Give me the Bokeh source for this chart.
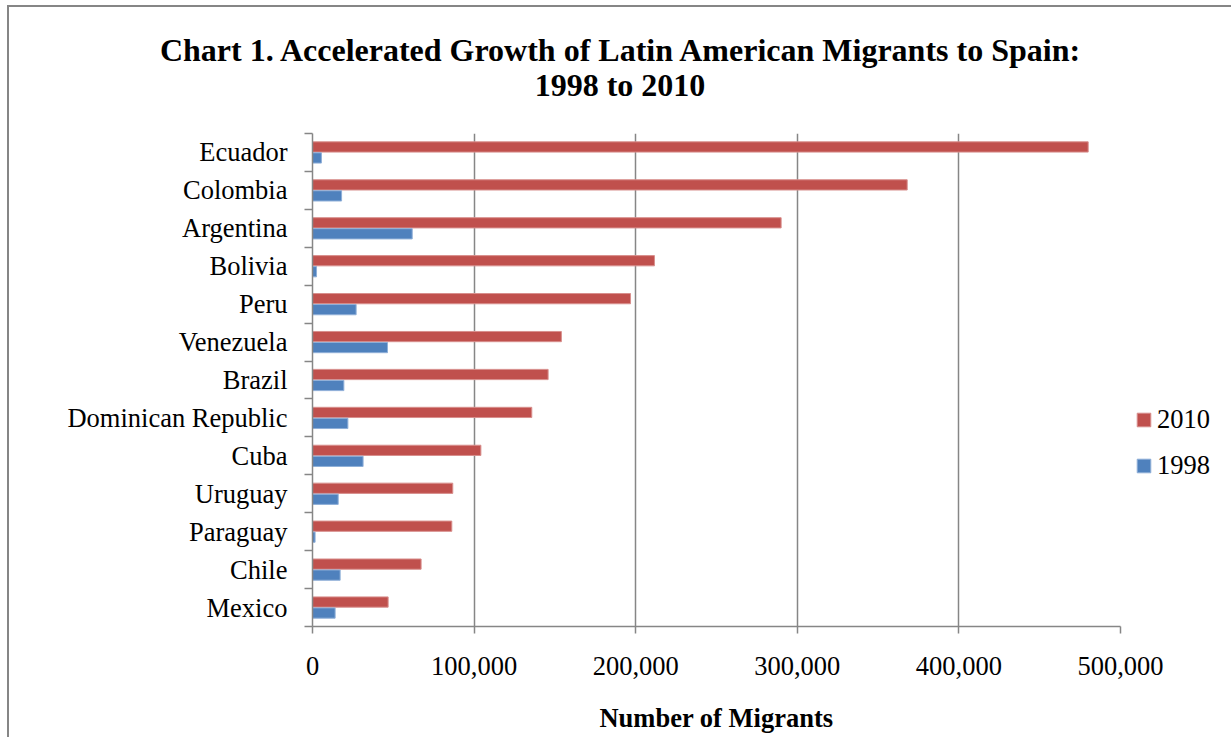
from bokeh.plotting import figure
from bokeh.models import (ColumnDataSource, Range1d, FixedTicker, NumeralTickFormatter,
                          Legend, LegendItem, Div)
from bokeh.layouts import column
from bokeh.transform import dodge
from bokeh.embed import file_html
from bokeh.resources import INLINE

# ---- data ----
countries = ["Ecuador", "Colombia", "Argentina", "Bolivia", "Peru", "Venezuela", "Brazil",
             "Dominican Republic", "Cuba", "Uruguay", "Paraguay", "Chile", "Mexico"]
migrants_2010 = [480000, 368000, 290000, 211600, 196800, 154000, 145800,
                 135700, 104200, 86800, 86200, 67200, 46800]
migrants_1998 = [5500, 18000, 61700, 2500, 27000, 46400, 19400,
                 21900, 31300, 15900, 1600, 17100, 14000]
x_ticks = [0, 100000, 200000, 300000, 400000, 500000]
series_names = ["2010", "1998"]
title_lines = ["Chart 1. Accelerated Growth of Latin American Migrants to Spain:", "1998 to 2010"]
x_title = "Number of Migrants"

RED = "#C0504D"
BLUE = "#4F81BD"
GREY = "#868686"
FONT = "Liberation Serif"

n = len(countries)
src = ColumnDataSource(dict(
    y=[i + 0.5 for i in range(n)],
    country=countries,
    v2010=migrants_2010,
    v1998=migrants_1998,
))

p = figure(frame_width=808, frame_height=493,
           x_range=Range1d(0, 500000), y_range=Range1d(n, 0),
           output_backend="svg", toolbar_location=None,
           min_border_left=303, min_border_right=110,
           min_border_top=26, min_border_bottom=113)
p.outline_line_color = None
p.background_fill_color = "white"
p.border_fill_color = "white"

r10 = p.hbar(y=dodge("y", -0.145), right="v2010", left=0, height=0.27, source=src,
             fill_color=RED, line_color="#D88F8D", line_width=1)
r98 = p.hbar(y=dodge("y", 0.145), right="v1998", left=0, height=0.27, source=src,
             fill_color=BLUE, line_color="#8FAFD8", line_width=1)

# x axis
p.xaxis.ticker = FixedTicker(ticks=x_ticks)
p.xaxis.formatter = NumeralTickFormatter(format="0,0")
p.xaxis.major_tick_in = 0
p.xaxis.major_tick_out = 7
p.xaxis.minor_tick_line_color = None
p.xaxis.axis_line_color = GREY
p.xaxis.axis_line_width = 1.5
p.xaxis.major_tick_line_color = GREY
p.xaxis.major_tick_line_width = 1.5
p.xaxis.major_label_text_font = FONT
p.xaxis.major_label_text_font_size = "26.5px"
p.xaxis.major_label_text_color = "black"
p.xaxis.major_label_standoff = 23
p.xaxis.axis_label = x_title
p.xaxis.axis_label_text_font = FONT
p.xaxis.axis_label_text_font_style = "bold"
p.xaxis.axis_label_text_font_size = "26.5px"
p.xaxis.axis_label_text_color = "black"
p.xaxis.axis_label_standoff = 25

# y axis
p.yaxis.ticker = FixedTicker(ticks=[i + 0.5 for i in range(n)], minor_ticks=list(range(n + 1)))
p.yaxis.major_label_overrides = {i + 0.5: c for i, c in enumerate(countries)}
p.yaxis.major_tick_line_color = None
p.yaxis.major_tick_in = 0
p.yaxis.major_tick_out = 0
p.yaxis.minor_tick_in = 0
p.yaxis.minor_tick_out = 8
p.yaxis.minor_tick_line_color = GREY
p.yaxis.minor_tick_line_width = 1.5
p.yaxis.axis_line_color = GREY
p.yaxis.axis_line_width = 1.5
p.yaxis.major_label_text_font = FONT
p.yaxis.major_label_text_font_size = "26.5px"
p.yaxis.major_label_text_color = "black"
p.yaxis.major_label_standoff = 17

# grid
p.xgrid.ticker = FixedTicker(ticks=x_ticks)
p.xgrid.grid_line_color = GREY
p.xgrid.grid_line_width = 1.5
p.ygrid.grid_line_color = None

legend = Legend(items=[LegendItem(label=series_names[0], renderers=[r10]),
                       LegendItem(label=series_names[1], renderers=[r98])],
                location=(15, 145), orientation="vertical",
                padding=0, margin=0, border_line_color=None, background_fill_alpha=0,
                glyph_width=17, glyph_height=17, label_standoff=5, spacing=15,
                label_height=30, label_text_font=FONT, label_text_font_size="26.5px",
                label_text_color="black")
p.add_layout(legend, "right")

title_html = ('<div style="width:1222px; text-align:center; font-family:\'Liberation Serif\'; '
              'font-weight:bold; font-size:32px; line-height:35px; padding-top:26px; color:black;">'
              + title_lines[0] + '<br>' + title_lines[1] + '</div>')
div = Div(text=title_html, width=1222, height=100, margin=0)

layout = column(div, p, spacing=0, margin=(7, 0, 0, 9),
                styles={"box-shadow": "-2px -2px 0 0 #868686"})

with open("out.html", "w") as f:
    f.write(file_html(layout, INLINE))
